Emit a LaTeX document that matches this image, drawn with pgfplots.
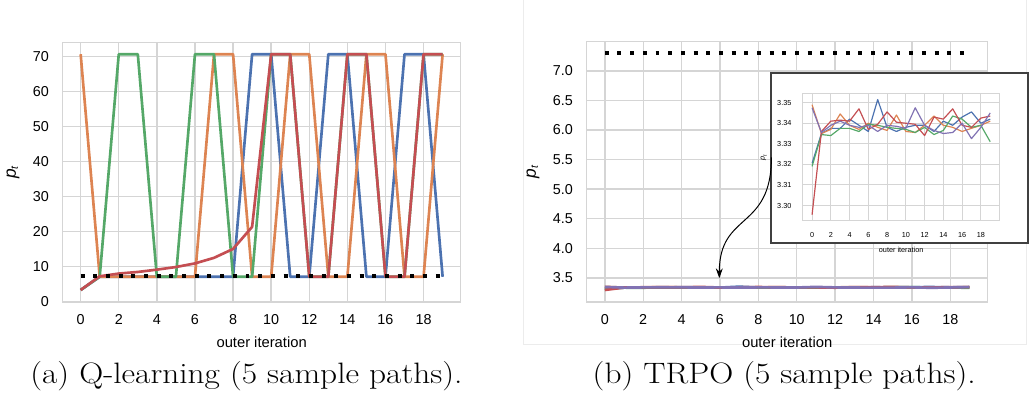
\documentclass[border=0pt]{standalone}
\usepackage{pgfplots}
\usepackage{pgfplotstable}
\usepackage{graphicx}
\usepackage{fontspec}
\pgfplotsset{compat=1.18}
\usetikzlibrary{arrows.meta}
\newfontfamily\arial{Liberation Sans}

\definecolor{c0}{HTML}{4C72B0}
\definecolor{c1}{HTML}{DD8452}
\definecolor{c2}{HTML}{55A868}
\definecolor{c3}{HTML}{C44E52}
\definecolor{c4}{HTML}{8172B3}
\definecolor{gridc}{HTML}{D5D5D5}

% Q-learning paths
\pgfplotstableread{
x  b     o     g     r
0  3.28  70.6  3.28  3.28
1  7.05  7.05  7.05  7.2
2  7.05  7.05  70.6  7.97
3  7.05  7.05  70.6  8.43
4  7.05  7.05  7.05  9.09
5  7.05  7.05  7.05  9.84
6  7.05  7.05  70.6  10.87
7  7.05  70.6  70.6  12.46
8  7.05  70.6  7.05  15.0
9  70.6  7.05  7.05  21.3
10 70.6  7.05  70.6  70.6
11 7.05  70.6  70.6  70.6
12 7.05  70.6  7.05  7.05
13 70.6  7.05  7.05  7.05
14 70.6  7.05  70.6  70.6
15 7.05  70.6  70.6  70.6
16 7.05  70.6  7.05  7.05
17 70.6  7.05  7.05  7.05
18 70.6  7.05  70.6  70.6
19 7.05  70.6  70.6  70.6
}\qtab

% TRPO paths
\pgfplotstableread{
x  b      o      g      r      p
0  3.3205 3.349  3.319  3.2955 3.3475
1  3.335  3.335  3.3345 3.336  3.3355
2  3.3375 3.337  3.334  3.341  3.339
3  3.3375 3.3445 3.3375 3.3415 3.341
4  3.342  3.339  3.3375 3.341  3.339
5  3.339  3.337  3.336  3.347  3.338
6  3.336  3.340  3.3395 3.337  3.339
7  3.3515 3.338  3.339  3.3395 3.336
8  3.338  3.3365 3.338  3.3455 3.339
9  3.336  3.344  3.3375 3.3405 3.3385
10 3.338  3.336  3.337  3.340  3.3375
11 3.339  3.3355 3.3355 3.3395 3.3475
12 3.339  3.339  3.338  3.334  3.339
13 3.336  3.3435 3.3345 3.343  3.3365
14 3.341  3.339  3.3365 3.342  3.335
15 3.339  3.338  3.3435 3.347  3.3355
16 3.343  3.336  3.342  3.339  3.340
17 3.3455 3.3375 3.338  3.338  3.3325
18 3.340  3.339  3.339  3.3425 3.338
19 3.342  3.341  3.331  3.3435 3.345
}\ttab

\pgfplotsset{
  sb/.style={
    scale only axis,
    anchor=south west,
    grid=major,
    major grid style={gridc, line width=0.7pt},
    axis line style={gridc, line width=0.7pt},
    tick style={draw=none},
    major tick length=0pt,
    tick label style={font=\arial\fontsize{7.3}{8}\selectfont},
    label style={font=\arial\fontsize{7.5}{8}\selectfont},
    /pgf/number format/assume math mode=true,
    xticklabel style={yshift=-3pt},
    yticklabel style={xshift=-3.4pt},
    xlabel style={yshift=1pt},
    xtick={0,2,...,18},
    xmin=-0.95, xmax=19.95,
    xlabel={outer iteration},
    ylabel={{\fontsize{8.8}{9}\selectfont\itshape p}\textsubscript{\itshape t}},
    every axis plot/.append style={line width=1.35pt, line join=round},
  },
  dotln/.style={black, line width=2pt, dash pattern=on 2pt off 4.45pt},
}

\begin{document}
\begin{tikzpicture}
\begin{scope}[x=0.5pt,y=-0.5pt]
  \path[use as bounding box] (0,0) rectangle (1029,402);
  \draw[gray!15, line width=0.5pt] (521,-2) rectangle (1032,350);
\end{scope}

% (a) Q-learning
\begin{axis}[sb, at={(26pt,-153.5pt)}, width=202.5pt, height=132pt,
  ymin=-0.1, ymax=74, ytick={0,10,...,70}]
  \addplot[c0] table[x=x, y=b] {\qtab};
  \addplot[c1] table[x=x, y=o] {\qtab};
  \addplot[c2] table[x=x, y=g] {\qtab};
  \addplot[c3] table[x=x, y=r] {\qtab};
  \addplot[dotln] coordinates {(0,7.25) (19,7.25)};
\end{axis}

% (b) TRPO
\begin{axis}[sb, at={(292.5pt,-153.5pt)}, width=204pt, height=132.5pt,
  ymin=3.095, ymax=7.5, ytick={3.5,4.0,...,7.0},
  yticklabel style={/pgf/number format/.cd, fixed, fixed zerofill, precision=1}]
  \addplot[c0] table[x=x, y=b] {\ttab};
  \addplot[c1] table[x=x, y=o] {\ttab};
  \addplot[c2] table[x=x, y=g] {\ttab};
  \addplot[c3] table[x=x, y=r] {\ttab};
  \addplot[c4] table[x=x, y=p] {\ttab};
  \addplot[dotln] coordinates {(0,7.3) (19,7.3)};
\end{axis}

\begin{scope}[x=0.5pt,y=-0.5pt]
  \filldraw[fill=white, draw=black!75, line width=1pt] (773,74) rectangle (1034,247);
  \draw[-{Stealth[length=5pt,width=3.5pt]}, line width=0.5pt] (773,160) .. controls (773,235) and (720,215) .. (720,283);
\end{scope}

% zoomed inset
\begin{axis}[scale only axis, anchor=south west, at={(402.5pt,-112.15pt)},
  width=100pt, height=64.65pt,
  grid=major,
  major grid style={gridc, line width=0.45pt},
  axis line style={gridc, line width=0.45pt},
  tick style={draw=none}, major tick length=0pt,
  tick label style={font=\arial\fontsize{3.7}{4}\selectfont},
  label style={font=\arial\fontsize{3.7}{4}\selectfont},
  /pgf/number format/assume math mode=true,
  xticklabel style={yshift=-2.3pt},
  yticklabel style={xshift=-2.3pt, /pgf/number format/.cd, fixed, fixed zerofill, precision=2},
  xlabel style={yshift=1.5pt},
  ylabel style={yshift=-1.5pt},
  xmin=-0.98, xmax=19.99, ymin=3.2927, ymax=3.3545,
  xtick={0,2,...,18}, ytick={3.30,3.31,3.32,3.33,3.34,3.35},
  xlabel={outer iteration}, ylabel={\itshape p\textsubscript{t}},
  every axis plot/.append style={line width=0.6pt, line join=round}]
  \addplot[c0] table[x=x, y=b] {\ttab};
  \addplot[c1] table[x=x, y=o] {\ttab};
  \addplot[c2] table[x=x, y=g] {\ttab};
  \addplot[c3] table[x=x, y=r] {\ttab};
  \addplot[c4] table[x=x, y=p] {\ttab};
\end{axis}

\begin{scope}[x=0.5pt,y=-0.5pt]
  \node[anchor=base, inner sep=0pt, font=\fontsize{15}{17}\selectfont] at (239,390) {\scalebox{1.13}[1]{(a) Q-learning (5 sample paths).}};
  \node[anchor=base, inner sep=0pt, font=\fontsize{15}{17}\selectfont] at (786,390) {\scalebox{1.13}[1]{(b) TRPO (5 sample paths).}};
\end{scope}
\end{tikzpicture}
\end{document}
